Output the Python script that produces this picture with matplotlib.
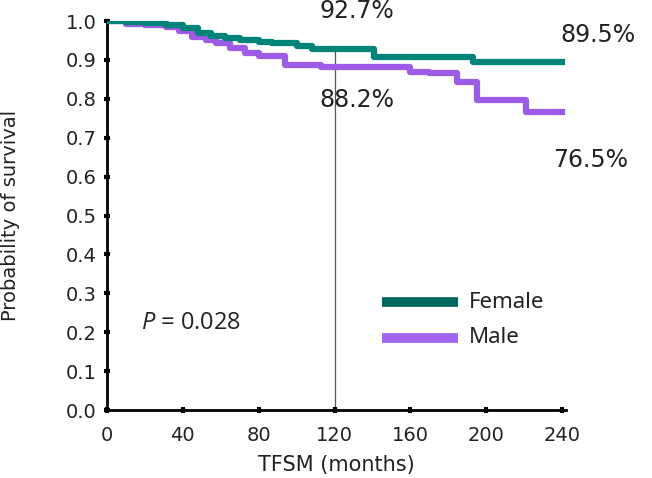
import matplotlib.pyplot as plt

plt.rcParams['mathtext.fontset'] = 'custom'
plt.rcParams['mathtext.it'] = 'Open Sans:italic'
plt.rcParams['mathtext.rm'] = 'Open Sans'

# Kaplan-Meier step curves
female_t = [0, 10, 20, 31, 40, 48, 55, 62, 70, 80, 87, 100, 108, 141, 193, 240]
female_s = [1.0, 0.998, 0.995, 0.99, 0.983, 0.969, 0.962, 0.956, 0.95, 0.946,
            0.943, 0.935, 0.927, 0.907, 0.895, 0.895]

male_t = [0, 10, 20, 31, 38, 45, 52, 57.5, 65, 73, 80, 94, 113, 160, 170,
          184.6, 195, 221, 240]
male_s = [1.0, 0.993, 0.99, 0.985, 0.975, 0.96, 0.95, 0.943, 0.93, 0.917, 0.91,
          0.887, 0.882, 0.87, 0.866, 0.844, 0.797, 0.765, 0.765]

xticks = [0, 40, 80, 120, 160, 200, 240]
yticks = [0.0, 0.1, 0.2, 0.3, 0.4, 0.5, 0.6, 0.7, 0.8, 0.9, 1.0]

teal = '#00847a'
purple = '#9d5ce6'

fig = plt.figure(figsize=(6.52, 4.78), dpi=100)
ax = fig.add_axes([0.164, 0.142, 0.704, 0.814])

ax.axvline(120, ymin=0, ymax=0.935, color='#555555', lw=0.9, zorder=1)
ax.step(female_t, female_s, where='post', color=teal, lw=4.5, zorder=3)
ax.step(male_t, male_s, where='post', color=purple, lw=4.5, zorder=2)

ax.set_xlim(0, 242)
ax.set_ylim(0, 1.0)
ax.set_xticks(xticks)
ax.set_yticks(yticks)
ax.set_yticklabels(['%.1f' % v for v in yticks])

for s in ['top', 'right']:
    ax.spines[s].set_visible(False)
for s in ['left', 'bottom']:
    ax.spines[s].set_linewidth(2)
ax.tick_params(direction='inout', length=5, width=3, labelsize=14,
               colors='black', labelcolor='#222222')
ax.tick_params(axis='x', pad=9)
ax.tick_params(axis='y', pad=5)

ax.set_xlabel('TFSM (months)', fontsize=15, color='#222222', labelpad=7)
ax.set_ylabel('Probability of survival', fontsize=14, color='#222222')
ax.yaxis.set_label_coords(-0.19, 0.5)

pct_kw = dict(fontsize=17, color='#222222',
              ha='center', va='center', clip_on=False)
ax.text(132, 1.025, '92.7%', **pct_kw)
ax.text(132, 0.797, '88.2%', **pct_kw)
ax.text(259, 0.964, '89.5%', **pct_kw)
ax.text(255, 0.643, '76.5%', **pct_kw)

ax.text(18, 0.225, r'$P$ = 0.028', fontsize=17, family='Open Sans',
        color='#222222', va='center')

ax.plot([145, 185], [0.277, 0.277], color='#00695e', lw=7, solid_capstyle='butt')
ax.plot([145, 185], [0.186, 0.186], color='#a064f0', lw=7, solid_capstyle='butt')
ax.text(191, 0.277, 'Female', fontsize=16, family='Noto Sans',
        color='#222222', va='center')
ax.text(191, 0.186, 'Male', fontsize=16, family='Noto Sans',
        color='#222222', va='center')

fig.savefig('out.png', dpi=100)
